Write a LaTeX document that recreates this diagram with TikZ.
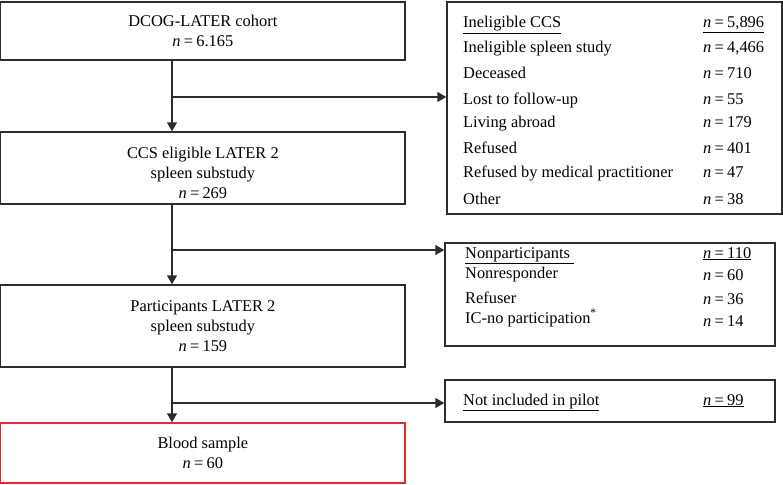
\documentclass[tikz,border=0pt]{standalone}
\usepackage{fontspec}
\setmainfont{Liberation Serif}
\usetikzlibrary{arrows.meta}

\definecolor{linegray}{RGB}{45,45,45}
\definecolor{boxred}{RGB}{225,45,45}
\newcommand{\ncount}[1]{\textit{n}\hspace{0.2em}=\hspace{0.2em}#1}

\begin{document}
\begin{tikzpicture}[x=1pt,y=-1pt,
   font=\fontsize{16.4}{20}\selectfont,
   box/.style={draw=linegray,line width=1.4pt,align=center,inner sep=0pt,minimum width=404.3pt},
   side/.style={draw=linegray,line width=1.4pt,inner sep=0pt},
   row/.style={anchor=base west,inner sep=0pt},
   arr/.style={draw=linegray,line width=1.4pt,-{Triangle[length=9pt,width=10pt]}}]
   \useasboundingbox (0,0) rectangle (783,484);

   % Left column
   \node[box,minimum height=58pt] (dcog) at (202.85,31) {DCOG-LATER cohort\\ \ncount{6.165}};
   \node[box,minimum height=72pt] (eligible) at (202.85,168) {\rule{0pt}{22pt}CCS eligible LATER 2\\ spleen substudy\\ \ncount{269}};
   \node[box,minimum height=82pt] (partic) at (202.85,326) {Participants LATER 2\\ spleen substudy\\ \ncount{159}};
   \node[box,draw=boxred,minimum height=60pt] (blood) at (202.85,453) {Blood sample\\ \ncount{60}};

   % Right column
   \node[side,minimum width=335pt,minimum height=212pt] (inelig) at (614.5,108) {};
   \node[row] (inelig1) at (463,28) {\underline{Ineligible CCS}};
   \node[row] (inelig2) at (463,53) {Ineligible spleen study};
   \node[row] (inelig3) at (463,79) {Deceased};
   \node[row] (inelig4) at (463,104) {Lost to follow-up};
   \node[row] (inelig5) at (463,128) {Living abroad};
   \node[row] (inelig6) at (463,153) {Refused};
   \node[row] (inelig7) at (463,177) {Refused by medical practitioner};
   \node[row] (inelig8) at (463,204) {Other};
   \node[row] (inelign1) at (703,28) {\underline{\ncount{5,896}}};
   \node[row] (inelign2) at (703,53) {\ncount{4,466}};
   \node[row] (inelign3) at (703,79) {\ncount{710}};
   \node[row] (inelign4) at (703,104) {\ncount{55}};
   \node[row] (inelign5) at (703,128) {\ncount{179}};
   \node[row] (inelign6) at (703,153) {\ncount{401}};
   \node[row] (inelign7) at (703,177) {\ncount{47}};
   \node[row] (inelign8) at (703,204) {\ncount{38}};

   \node[side,minimum width=330pt,minimum height=103pt] (nonpart) at (610,294.5) {};
   \node[row] (nonpart1) at (465,258) {\underline{Nonparticipants\ }};
   \node[row] (nonpart2) at (465,278) {Nonresponder};
   \node[row] (nonpart3) at (465,303) {Refuser};
   \node[row] (nonpart4) at (465,323) {IC-no participation\textsuperscript{*}};
   \node[row] (nonpartn1) at (703,258) {\underline{\ncount{110}}};
   \node[row] (nonpartn2) at (703,280) {\ncount{60}};
   \node[row] (nonpartn3) at (703,304) {\ncount{36}};
   \node[row] (nonpartn4) at (703,326) {\ncount{14}};

   \node[side,minimum width=330pt,minimum height=42pt] (pilot) at (610,401) {};
   \node[row] (pilot1) at (463,405) {\underline{Not included in pilot}};
   \node[row] (pilotn1) at (703,405) {\underline{\ncount{99}}};

   % Connectors
   \coordinate (split1) at (172,97);
   \coordinate (split2) at (172,250);
   \coordinate (split3) at (172,403);
   \draw[arr] (dcog.south -| split1) -- (eligible.north -| split1);
   \draw[arr] (split1) -- (inelig.west |- split1);
   \draw[arr] (eligible.south -| split2) -- (partic.north -| split2);
   \draw[arr] (split2) -- (nonpart.west |- split2);
   \draw[arr] (partic.south -| split3) -- (blood.north -| split3);
   \draw[arr] (split3) -- (pilot.west |- split3);
\end{tikzpicture}
\end{document}
